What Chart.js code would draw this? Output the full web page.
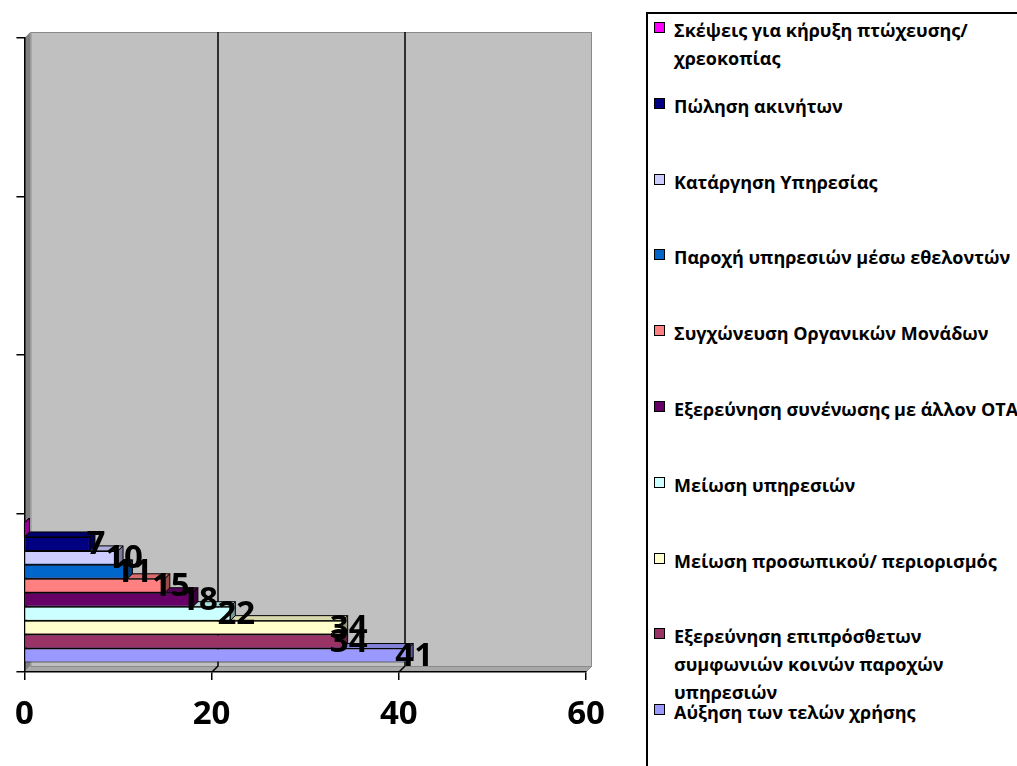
<!DOCTYPE html>
<html>
<head>
<meta charset="utf-8">
<script src="https://cdn.jsdelivr.net/npm/chart.js@4/dist/chart.umd.min.js"></script>
<style>
  html, body { margin: 0; padding: 0; background: #fff; overflow: hidden; }
  #wrap { position: relative; width: 1017px; height: 766px; }
  #chart { position: absolute; left: 0; top: 0; }
  #legend {
    position: absolute; left: 646px; top: 12px; width: 420px; height: 820px;
    border: 2px solid #000; box-sizing: border-box; background: #fff;
  }
  .item { position: absolute; left: 6px; }
  .sw { position: absolute; left: 0; top: 0; width: 9px; height: 9px; border: 1.5px solid #000; }
  .txt {
    position: absolute; left: 20px; top: -6px; white-space: pre; color: #000;
    font-family: "Open Sans", "Noto Sans", sans-serif; font-weight: 700; font-size: 18px; line-height: 28px;
  }
</style>
</head>
<body>
<div id="wrap">
  <canvas id="chart" width="1017" height="766"></canvas>
  <div id="legend"></div>
</div>
<script>
// categories on the vertical axis (Excel draws 4 empty slots, only the first has data)
const categories = ['', '', '', ''];

// series, listed from the bottom bar up
const seriesNames = [
  'Αύξηση των τελών χρήσης',
  'Εξερεύνηση επιπρόσθετων\nσυμφωνιών κοινών παροχών\nυπηρεσιών',
  'Μείωση προσωπικού/ περιορισμός',
  'Μείωση υπηρεσιών',
  'Εξερεύνηση συνένωσης με άλλον ΟΤΑ',
  'Συγχώνευση Οργανικών Μονάδων',
  'Παροχή υπηρεσιών μέσω εθελοντών',
  'Κατάργηση Υπηρεσίας',
  'Πώληση ακινήτων',
  'Σκέψεις για κήρυξη πτώχευσης/\nχρεοκοπίας'
];
const seriesValues = [41, 34, 34, 22, 18, 15, 11, 10, 7, 0];
const seriesColors = ['#9999FF', '#993366', '#FFFFCC', '#CCFFFF', '#660066',
                      '#FF8080', '#0066CC', '#CCCCFF', '#000080', '#FF00FF'];
const xTicks = [0, 20, 40, 60];

const FONT = '"Open Sans", "Noto Sans", sans-serif';

function shade(hex, f) {
  const n = parseInt(hex.slice(1), 16);
  const r = Math.round(((n >> 16) & 255) * f);
  const g = Math.round(((n >> 8) & 255) * f);
  const b = Math.round((n & 255) * f);
  return 'rgb(' + r + ',' + g + ',' + b + ')';
}

function poly(ctx, pts, fill) {
  ctx.beginPath();
  ctx.moveTo(pts[0][0], pts[0][1]);
  for (let i = 1; i < pts.length; i++) ctx.lineTo(pts[i][0], pts[i][1]);
  ctx.closePath();
  ctx.fillStyle = fill;
  ctx.fill();
}

// back wall, side wall and floor of the 3d plot
const wall3d = {
  id: 'wall3d',
  beforeDraw(chart) {
    const { ctx, chartArea: a } = chart;
    const d = 6;
    const L = a.left, R = a.right, T = a.top, B = a.bottom;
    ctx.save();
    poly(ctx, [[L + d, T - d], [R + d, T - d], [R + d, B - d], [L + d, B - d]], '#c0c0c0');
    poly(ctx, [[L, T], [L + d, T - d], [L + d, B - d], [L, B]], '#808080');
    poly(ctx, [[L, B], [L + d, B - d], [R + d, B - d], [R, B]], '#a8a8a8');
    ctx.strokeStyle = '#8a8a8a';
    ctx.lineWidth = 1;
    ctx.strokeRect(L + d + 0.5, T - d + 0.5, R - L - 1, B - T);
    ctx.beginPath();
    ctx.moveTo(R + d, B - d); ctx.lineTo(R, B);
    ctx.stroke();
    // gridlines on the back wall
    const xs = chart.scales.x;
    ctx.strokeStyle = '#000';
    ctx.lineWidth = 1.5;
    xTicks.forEach(v => {
      if (v <= xs.min || v >= xs.max) return;
      const x = Math.round(xs.getPixelForValue(v)) + d;
      ctx.beginPath();
      ctx.moveTo(x, T - d);
      ctx.lineTo(x, B - d);
      ctx.lineTo(x - d, B);
      ctx.stroke();
    });
    ctx.restore();
  },
  beforeDatasetsDraw(chart) {
    // top and end faces of the bars, bottom bar first
    const { ctx } = chart;
    const d = 5;
    ctx.save();
    ctx.strokeStyle = '#000';
    ctx.lineWidth = 1;
    const metas = chart.data.datasets.map((ds, i) => ({ ds, meta: chart.getDatasetMeta(i) }));
    metas.sort((p, q) => q.meta.data[0].y - p.meta.data[0].y);
    metas.forEach(({ ds, meta }) => {
      meta.data.forEach((el, j) => {
        if (ds.data[j] == null) return;
        const x0 = el.base, x1 = el.x;
        const yt = el.y - el.height / 2, yb = el.y + el.height / 2;
        const c = ds.backgroundColor;
        const top = [[x0, yt], [x0 + d, yt - d], [x1 + d, yt - d], [x1, yt]];
        const side = [[x1, yt], [x1 + d, yt - d], [x1 + d, yb - d], [x1, yb]];
        poly(ctx, top, shade(c, 0.85)); ctx.stroke();
        poly(ctx, side, shade(c, 0.6)); ctx.stroke();
      });
    });
    ctx.restore();
  }
};

// value labels at the end of the bars
const barLabels = {
  id: 'barLabels',
  afterDatasetsDraw(chart) {
    const { ctx } = chart;
    ctx.save();
    ctx.font = 'bold 33px ' + FONT;
    ctx.fillStyle = '#000';
    ctx.textAlign = 'center';
    ctx.textBaseline = 'middle';
    chart.data.datasets.forEach((ds, i) => {
      chart.getDatasetMeta(i).data.forEach((el, j) => {
        const v = ds.data[j];
        if (!v) return;
        ctx.fillText(String(v), el.x + 6, el.y + 1);
      });
    });
    ctx.restore();
  }
};

// the reversed y axis keeps dataset order top-down inside a category,
// so the datasets are handed over top bar first
const order = seriesNames.map((n, i) => i).reverse();
const datasets = order.map(i => ({
  label: seriesNames[i],
  data: categories.map((c, j) => (j === 0 ? seriesValues[i] : null)),
  backgroundColor: seriesColors[i],
  borderColor: '#000',
  borderWidth: 1,
  categoryPercentage: 0.88,
  barPercentage: 1
}));

new Chart(document.getElementById('chart'), {
  type: 'bar',
  data: { labels: categories, datasets: datasets },
  options: {
    indexAxis: 'y',
    responsive: false,
    animation: false,
    layout: { padding: { top: 38, right: 431, left: 0, bottom: 0 } },
    plugins: { legend: { display: false }, tooltip: { enabled: false } },
    scales: {
      x: {
        min: 0, max: 60,
        afterBuildTicks: s => { s.ticks = xTicks.map(v => ({ value: v })); },
        afterFit: s => { s.height = 766 - 672; },
        ticks: { color: '#000', font: { family: FONT, size: 33, weight: 'bold' }, padding: 15, maxRotation: 0 },
        grid: { drawOnChartArea: false, color: '#000', tickLength: 8, lineWidth: 1.5 },
        border: { color: '#000', width: 1.5 }
      },
      y: {
        reverse: true,
        afterFit: s => { s.width = 20; },
        ticks: { display: true },
        grid: { drawOnChartArea: false, color: '#000', tickLength: 8, lineWidth: 1.5, offset: true },
        border: { color: '#000', width: 1.5 }
      }
    }
  },
  plugins: [wall3d, barLabels]
});

// legend, top entry is the last series
const legend = document.getElementById('legend');
for (let k = 0; k < seriesNames.length; k++) {
  const i = seriesNames.length - 1 - k;
  const item = document.createElement('div');
  item.className = 'item';
  item.style.top = (8 + k * 75.8) + 'px';
  const sw = document.createElement('div');
  sw.className = 'sw';
  sw.style.background = seriesColors[i];
  const txt = document.createElement('div');
  txt.className = 'txt';
  txt.textContent = seriesNames[i];
  item.appendChild(sw);
  item.appendChild(txt);
  legend.appendChild(item);
}
</script>
</body>
</html>
